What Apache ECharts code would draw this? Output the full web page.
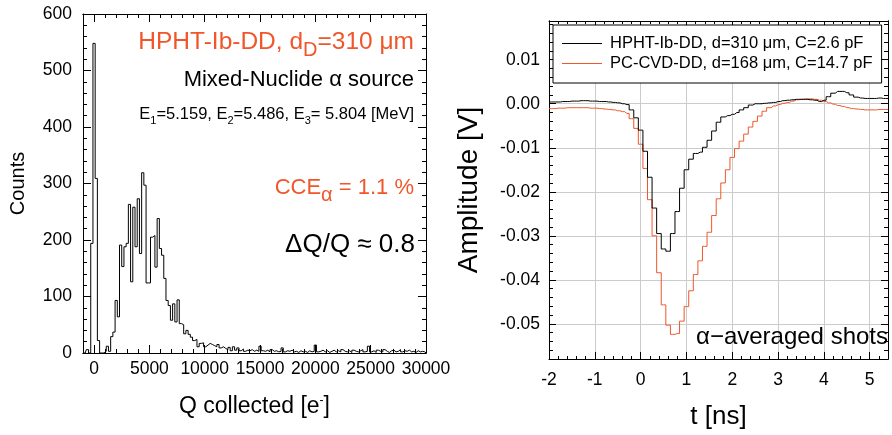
<!DOCTYPE html>
<html><head><meta charset="utf-8">
<script src="https://cdn.jsdelivr.net/npm/echarts@6/dist/echarts.min.js"></script>
<style>html,body{margin:0;padding:0;background:#fff}#c{width:892px;height:435px}</style>
</head><body><div id="c"></div>
<script>
// ---------- data: left histogram ----------
const qBinStart = -1000;   // centre of first bin [e-]
const qBinWidth = 200;     // bin width [e-]
const counts = [
  0,0,6,0,194,548,309,22,0,0,
  3,12,3,29,37,93,64,191,153,188,
  194,263,126,258,188,273,176,319,297,124,
  124,205,208,152,238,185,173,132,93,84,
  58,87,55,94,52,50,34,40,33,28,
  22,24,11,17,18,11,14,17,15,13,
  11,15,9,11,8,6,10,4,11,5,
  9,4,7,3,5,4,6,3,5,3,
  12,4,3,5,2,6,3,4,2,3,
  9,2,4,3,5,2,3,1,4,2,
  3,1,4,2,3,14,2,3,5,2,
  4,1,3,5,2,4,2,6,3,2,
  4,1,5,3,2,4,6,2,3,12,
  2,4,1,5,3,2,6,3,1,4,
  5,2,3,6,2,4,3,5,2,3,
  1,4,2,3,2,0
];
const qTickLabels = [0,5000,10000,15000,20000,25000,30000];

// ---------- data: right waveforms ----------
const tStart = -2.0;   // ns
const tStep = 0.1;     // ns
const hphtAmp = [
  0.0004,0.0004,0.0004,0.0005,0.0005,0.0006,0.0006,0.0007,0.0007,0.0006,
  0.0006,0.0005,0.0005,0.0004,0.0003,0.0002,0.0000,-0.0002,-0.0014,-0.0032,
  -0.0060,-0.0108,-0.0167,-0.0237,-0.0295,-0.0330,-0.0335,-0.0295,-0.0245,-0.0192,
  -0.0150,-0.0126,-0.0113,-0.0110,-0.0099,-0.0083,-0.0062,-0.0042,-0.0030,-0.0027,
  -0.0024,-0.0020,-0.0014,-0.0009,-0.0003,0.0000,0.0000,0.0001,0.0002,0.0003,
  0.0005,0.0007,0.0008,0.0009,0.0010,0.0010,0.0010,0.0009,0.0008,0.0005,
  0.0008,0.0016,0.0024,0.0028,0.0028,0.0025,0.0020,0.0015,0.0013,0.0012,
  0.0012,0.0012,0.0013,0.0012,0.0012
];
const pccvdAmp = [
  -0.0011,-0.0011,-0.0010,-0.0010,-0.0009,-0.0009,-0.0009,-0.0009,-0.0009,-0.0010,
  -0.0010,-0.0011,-0.0012,-0.0013,-0.0014,-0.0016,-0.0018,-0.0022,-0.0034,-0.0056,
  -0.0092,-0.0147,-0.0218,-0.0300,-0.0384,-0.0457,-0.0503,-0.0524,-0.0522,-0.0494,
  -0.0461,-0.0425,-0.0388,-0.0357,-0.0324,-0.0292,-0.0254,-0.0216,-0.0180,-0.0150,
  -0.0122,-0.0102,-0.0085,-0.0069,-0.0053,-0.0040,-0.0028,-0.0017,-0.0009,-0.0005,
  -0.0002,0.0001,0.0003,0.0006,0.0009,0.0010,0.0011,0.0011,0.0010,0.0008,
  0.0005,0.0002,-0.0001,-0.0004,-0.0006,-0.0009,-0.0011,-0.0012,-0.0013,-0.0014,
  -0.0014,-0.0014,-0.0013,-0.0013,-0.0013
];
const ampTickLabels = [-0.05,-0.04,-0.03,-0.02,-0.01,0,0.01];
const seriesNames = ['HPHT-Ib-DD, d=310 \u03bcm, C=2.6 pF', 'PC-CVD-DD, d=168 \u03bcm, C=14.7 pF'];

// ---------- chart ----------
const FONT = '"Liberation Sans", Arial, Helvetica, sans-serif';
const ORANGE = '#f0562a';
const TICKFS = 17.5;
const histData = counts.map((c, i) => [qBinStart + i * qBinWidth, c]);
const wave = a => a.map((v, i) => [+(tStart + i * tStep).toFixed(2), v]);

const line0 = { show: true, onZero: false, lineStyle: { color: '#000', width: 1 } };
const noLabel = { show: false };
const noSplit = { show: false };

function minorAxis(extra) {
  return Object.assign({
    type: 'value', axisLine: line0, axisLabel: noLabel, splitLine: noSplit,
    axisTick: { show: true, inside: true, length: 4, lineStyle: { color: '#000' } }
  }, extra);
}

const chart = echarts.init(document.getElementById('c'));
chart.setOption({
  animation: false,
  backgroundColor: '#fff',
  textStyle: { fontFamily: FONT },
  grid: [
    { left: 83, top: 14, width: 343, height: 339 },
    { left: 549, top: 21, width: 339, height: 340 }
  ],
  xAxis: [
    minorAxis({ gridIndex: 0, position: 'bottom', min: -1000, max: 30000, interval: 1000 }),
    { type: 'value', gridIndex: 0, position: 'bottom', min: -1000, max: 30000,
      axisLine: line0, splitLine: noSplit,
      axisTick: { show: true, inside: true, length: 8, customValues: qTickLabels, lineStyle: { color: '#000' } },
      axisLabel: { customValues: qTickLabels, color: '#000', fontSize: TICKFS, margin: 7, fontFamily: FONT,
        formatter: v => String(v) },
      name: 'Q collected [e{sup|-}]', nameLocation: 'middle', nameGap: 42,
      nameTextStyle: { color: '#000', fontSize: 23, fontFamily: FONT,
        rich: { sup: { fontSize: 12, verticalAlign: 'top', lineHeight: 24, color: '#000', fontFamily: FONT } } } },
    minorAxis({ gridIndex: 0, position: 'top', min: -1000, max: 30000, interval: 1000 }),
    { type: 'value', gridIndex: 0, position: 'top', min: -1000, max: 30000,
      axisLine: line0, splitLine: noSplit, axisLabel: noLabel,
      axisTick: { show: true, inside: true, length: 8, customValues: qTickLabels, lineStyle: { color: '#000' } } },
    { type: 'value', gridIndex: 1, position: 'bottom', min: -2, max: 5.4, interval: 1,
      axisLine: line0,
      axisTick: { show: true, inside: true, length: 7, lineStyle: { color: '#000' } },
      minorTick: { show: true, splitNumber: 5, length: 3, lineStyle: { color: '#000' } },
      splitLine: { show: true, lineStyle: { color: '#cccccc', width: 1 } },
      axisLabel: { color: '#000', fontSize: TICKFS, margin: 12, showMaxLabel: false, fontFamily: FONT },
      name: 't [ns]', nameLocation: 'middle', nameGap: 45,
      nameTextStyle: { color: '#000', fontSize: 26, fontFamily: FONT } },
    { type: 'value', gridIndex: 1, position: 'top', min: -2, max: 5.4, interval: 1,
      axisLine: line0, axisLabel: noLabel, splitLine: noSplit,
      axisTick: { show: true, inside: true, length: 7, lineStyle: { color: '#000' } },
      minorTick: { show: true, splitNumber: 5, length: 3, lineStyle: { color: '#000' } } }
  ],
  yAxis: [
    { type: 'value', gridIndex: 0, position: 'left', min: 0, max: 600, interval: 100,
      axisLine: line0, splitLine: noSplit,
      axisTick: { show: true, inside: true, length: 8, lineStyle: { color: '#000' } },
      minorTick: { show: true, splitNumber: 5, length: 4, lineStyle: { color: '#000' } },
      axisLabel: { color: '#000', fontSize: TICKFS, margin: 11, fontFamily: FONT },
      name: 'Counts', nameLocation: 'middle', nameGap: 55,
      nameTextStyle: { color: '#000', fontSize: 20, fontFamily: FONT } },
    { type: 'value', gridIndex: 0, position: 'right', min: 0, max: 600, interval: 100,
      axisLine: line0, splitLine: noSplit, axisLabel: noLabel,
      axisTick: { show: true, inside: true, length: 8, lineStyle: { color: '#000' } },
      minorTick: { show: true, splitNumber: 5, length: 4, lineStyle: { color: '#000' } } },
    minorAxis({ gridIndex: 1, position: 'left', min: -0.058, max: 0.0188, interval: 0.002 }),
    { type: 'value', gridIndex: 1, position: 'left', min: -0.058, max: 0.0188,
      axisLine: line0,
      axisTick: { show: true, inside: true, length: 7, customValues: ampTickLabels, lineStyle: { color: '#000' } },
      axisLabel: { customValues: ampTickLabels, color: '#000', fontSize: TICKFS, margin: 9, fontFamily: FONT,
        formatter: v => v.toFixed(2) },
      splitLine: { show: true, lineStyle: { color: '#cccccc', width: 1 } },
      name: 'Amplitude [V]', nameLocation: 'middle', nameGap: 66,
      nameTextStyle: { color: '#000', fontSize: 28, fontFamily: FONT } },
    minorAxis({ gridIndex: 1, position: 'right', min: -0.058, max: 0.0188, interval: 0.002 }),
    { type: 'value', gridIndex: 1, position: 'right', min: -0.058, max: 0.0188,
      axisLine: line0, axisLabel: noLabel, splitLine: noSplit,
      axisTick: { show: true, inside: true, length: 7, customValues: ampTickLabels, lineStyle: { color: '#000' } } }
  ],
  legend: {
    data: seriesNames, orient: 'vertical', left: 553, top: 25,
    icon: 'rect', itemWidth: 40, itemHeight: 1, itemGap: 3,
    padding: [10, 9, 11, 9], borderColor: '#000', borderWidth: 1, backgroundColor: '#fff',
    textStyle: { color: '#000', fontSize: 16.5, fontFamily: FONT, padding: [0, 0, 0, 3] }
  },
  series: [
    { type: 'line', name: 'hist', xAxisIndex: 0, yAxisIndex: 0, data: histData, step: 'middle',
      symbol: 'none', lineStyle: { color: '#000', width: 1 }, silent: true },
    { type: 'line', name: seriesNames[0], xAxisIndex: 4, yAxisIndex: 2, data: wave(hphtAmp), step: 'middle',
      symbol: 'none', itemStyle: { color: '#000' }, lineStyle: { color: '#000', width: 1 }, z: 3 },
    { type: 'line', name: seriesNames[1], xAxisIndex: 4, yAxisIndex: 2, data: wave(pccvdAmp), step: 'middle',
      symbol: 'none', itemStyle: { color: ORANGE }, lineStyle: { color: ORANGE, width: 1 }, z: 2 }
  ],
  graphic: [
    { type: 'text', x: 414, y: 42, style: {
        text: 'HPHT-Ib-DD, d{sub|D}=310 \u03bcm', align: 'right', verticalAlign: 'middle',
        fill: ORANGE, font: '24.5px ' + FONT, lineHeight: 36,
        rich: { sub: { fontSize: 20, fontFamily: FONT, fill: ORANGE, verticalAlign: 'bottom', lineHeight: 36 } } } },
    { type: 'text', x: 414, y: 80, style: {
        text: 'Mixed-Nuclide \u03b1 source', align: 'right', verticalAlign: 'middle',
        fill: '#000', font: '22px ' + FONT } },
    { type: 'text', x: 414, y: 114, style: {
        text: 'E{s|1}=5.159, E{s|2}=5.486, E{s|3}= 5.804 [MeV]', align: 'right', verticalAlign: 'middle',
        fill: '#000', font: '16.5px ' + FONT, lineHeight: 24,
        rich: { s: { fontSize: 11, fontFamily: FONT, fill: '#000', verticalAlign: 'bottom', lineHeight: 24 } } } },
    { type: 'text', x: 414, y: 188, style: {
        text: 'CCE{s|\u03b1} = 1.1 %', align: 'right', verticalAlign: 'middle',
        fill: ORANGE, font: '22px ' + FONT, lineHeight: 34,
        rich: { s: { fontSize: 20, fontFamily: FONT, fill: ORANGE, verticalAlign: 'bottom', lineHeight: 34 } } } },
    { type: 'text', x: 415, y: 245, style: {
        text: '\u0394Q/Q \u2248 0.8', align: 'right', verticalAlign: 'middle',
        fill: '#000', font: '26px ' + FONT } },
    { type: 'text', x: 888, y: 337, z: 10, style: {
        text: '\u03b1\u2212averaged shots', align: 'right', verticalAlign: 'middle',
        fill: '#000', font: '24px ' + FONT } }
  ]
});
</script>
</body></html>
